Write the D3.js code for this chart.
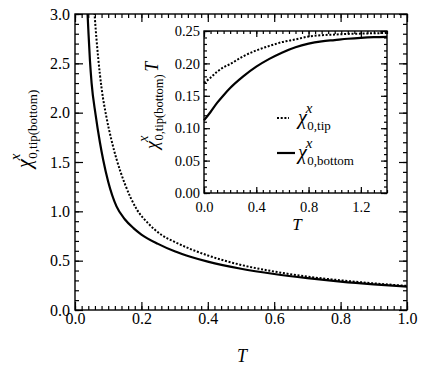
<!DOCTYPE html>
<html>
<head>
<meta charset="utf-8">
<script src="https://cdn.jsdelivr.net/npm/d3@7"></script>
<style>
  body { margin: 0; background: #fff; }
  svg { display: block; }
  .tick line { stroke: #000; stroke-width: 1.2; }
  .tick text { fill: #000; }
</style>
</head>
<body>
<div id="chart"></div>
<script>
// main panel: chi^x_0 against T
var main_T_bottom   = [0.035, 0.04, 0.045, 0.05, 0.062, 0.075, 0.085, 0.1, 0.125, 0.15, 0.176, 0.2, 0.25, 0.3, 0.35, 0.4, 0.5, 0.6, 0.7, 0.8, 0.9, 1.0];
var main_chi_bottom = [3.2, 2.85, 2.53, 2.3, 1.98, 1.7, 1.52, 1.3, 1.05, 0.92, 0.83, 0.765, 0.67, 0.595, 0.537, 0.49, 0.418, 0.365, 0.323, 0.288, 0.26, 0.237];
var main_T_tip   = [0.055, 0.06, 0.07, 0.08, 0.095, 0.11, 0.125, 0.15, 0.186, 0.22, 0.261, 0.3, 0.35, 0.4, 0.5, 0.6, 0.7, 0.8, 0.9, 1.0];
var main_chi_tip = [3.2, 2.95, 2.55, 2.25, 1.95, 1.72, 1.53, 1.28, 1.02, 0.88, 0.76, 0.69, 0.615, 0.553, 0.457, 0.39, 0.338, 0.301, 0.27, 0.244];

// inset: chi^x_0 * T against T
var inset_T = [0, 0.05, 0.1, 0.15, 0.2, 0.3, 0.4, 0.5, 0.6, 0.7, 0.8, 0.9, 1.0, 1.1, 1.2, 1.3, 1.4];
var inset_bottom = [0.112, 0.125, 0.139, 0.151, 0.162, 0.18, 0.195, 0.207, 0.217, 0.225, 0.2305, 0.234, 0.236, 0.238, 0.2395, 0.2405, 0.241];
var inset_tip    = [0.17, 0.178, 0.187, 0.194, 0.199, 0.211, 0.22, 0.227, 0.233, 0.237, 0.2415, 0.2435, 0.2445, 0.2455, 0.246, 0.2465, 0.247];

var main_xticks = [0, 0.2, 0.4, 0.6, 0.8, 1.0];
var main_yticks = [0, 0.5, 1.0, 1.5, 2.0, 2.5, 3.0];
var inset_xticks = [0, 0.4, 0.8, 1.2];
var inset_yticks = [0, 0.05, 0.10, 0.15, 0.20, 0.25];

var W = 436, H = 371;
var FONT = "'Liberation Serif'";

var svg = d3.select("#chart").append("svg")
	.attr("width", W)
	.attr("height", H);

// every text gets the serif family set on itself
function txt(sel) {
	return sel.append("text").style("font-family", FONT);
}

function zip(a, b) {
	return a.map(function(d, i) { return [d, b[i]]; });
}

function minors(lo, hi, step) {
	var out = [];
	var n = Math.round((hi - lo) / step);
	for (var i = 0; i <= n; i++) out.push(+(lo + i * step).toFixed(4));
	return out;
}

// draws inward ticks on all four sides of a frame
function frame(g, x, y, o) {
	var x0 = x.range()[0], x1 = x.range()[1],
		y0 = y.range()[0], y1 = y.range()[1];

	g.append("rect")
		.attr("x", x0).attr("y", y1)
		.attr("width", x1 - x0).attr("height", y0 - y1)
		.attr("fill", o.fill || "none")
		.attr("stroke", "#000")
		.attr("stroke-width", 1.4);

	var sides = [
		{ axis: d3.axisBottom(x), t: "translate(0," + y0 + ")", major: o.xt, minor: o.xm, fmt: o.fmt[0], pad: o.xpad },
		{ axis: d3.axisTop(x), t: "translate(0," + y1 + ")", major: o.xt, minor: o.xm },
		{ axis: d3.axisLeft(y), t: "translate(" + x0 + ",0)", major: o.yt, minor: o.ym, fmt: o.fmt[1], pad: o.ypad },
		{ axis: d3.axisRight(y), t: "translate(" + x1 + ",0)", major: o.yt, minor: o.ym }
	];

	sides.forEach(function(s) {
		g.append("g")
			.attr("transform", s.t)
			.call(s.axis.tickValues(s.minor).tickSize(-o.minLen).tickFormat(""))
			.call(function(a) { a.select(".domain").remove(); });
		var ax = g.append("g")
			.attr("transform", s.t)
			.call(s.axis.tickValues(s.major).tickSize(-o.majLen)
				.tickPadding(s.pad || 3)
				.tickFormat(s.fmt || ""));
		ax.attr("font-size", o.fs).attr("font-family", null);
		ax.selectAll("text").style("font-family", FONT);
		ax.select(".domain").remove();
	});
}

/* MAIN PANEL */

var x = d3.scaleLinear().domain([0, 1]).range([75, 407]),
	y = d3.scaleLinear().domain([0, 3]).range([310, 14]);

svg.append("clipPath").attr("id", "mainclip")
	.append("rect")
	.attr("x", 75).attr("y", 14)
	.attr("width", 332).attr("height", 296);

var main = svg.append("g");

frame(main, x, y, {
	xt: main_xticks, xm: minors(0, 1, 0.02),
	yt: main_yticks, ym: minors(0, 3, 0.1),
	majLen: 8, minLen: 4, fs: 16, xpad: 3, ypad: 5,
	fmt: [d3.format(".1f"), d3.format(".1f")]
});

var line = d3.line()
	.x(function(d) { return x(d[0]); })
	.y(function(d) { return y(d[1]); })
	.curve(d3.curveMonotoneX);

main.append("path")
	.datum(zip(main_T_tip, main_chi_tip))
	.attr("clip-path", "url(#mainclip)")
	.attr("fill", "none")
	.attr("stroke", "#000")
	.attr("stroke-width", 2)
	.attr("stroke-dasharray", "2,1.7")
	.attr("d", line);

main.append("path")
	.datum(zip(main_T_bottom, main_chi_bottom))
	.attr("clip-path", "url(#mainclip)")
	.attr("fill", "none")
	.attr("stroke", "#000")
	.attr("stroke-width", 2.2)
	.attr("d", line);

// x label
txt(svg)
	.attr("x", 242).attr("y", 362)
	.attr("text-anchor", "middle")
	.attr("font-size", 18)
	.attr("font-style", "italic")
	.text("T");

// chi label with stacked super/subscript, in a local frame
function chiLabel(g, chiSize, subSize, subText, extra) {
	var chi = txt(g)
		.attr("font-size", chiSize)
		.attr("font-style", "italic")
		.text("\u03c7");
	var w = chi.node().getComputedTextLength();
	var sub = txt(g)
		.attr("x", w + 0.5).attr("y", chiSize * 0.28)
		.attr("font-size", subSize)
		.text(subText);
	txt(g)
		.attr("x", w - 1).attr("y", -chiSize * 0.55)
		.attr("font-size", subSize + 2)
		.attr("font-style", "italic")
		.text("x");
	if (extra) {
		var sw = sub.node().getComputedTextLength();
		txt(g)
			.attr("x", w + sw + 3).attr("y", 0)
			.attr("font-size", chiSize)
			.attr("font-style", "italic")
			.text(extra);
	}
}

chiLabel(svg.append("g").attr("transform", "translate(31,168) rotate(-90)"), 20, 13, "0,tip(bottom)");

/* INSET */

var ix = d3.scaleLinear().domain([0, 1.4]).range([204, 387]),
	iy = d3.scaleLinear().domain([0, 0.25]).range([193, 31]);

var inset = svg.append("g");

frame(inset, ix, iy, {
	xt: inset_xticks, xm: minors(0, 1.4, 0.05),
	yt: inset_yticks, ym: minors(0, 0.25, 0.01),
	majLen: 6, minLen: 3, fs: 14.5, xpad: 9, ypad: 4, fill: "#fff",
	fmt: [d3.format(".1f"), d3.format(".2f")]
});

var iline = d3.line()
	.x(function(d) { return ix(d[0]); })
	.y(function(d) { return iy(d[1]); })
	.curve(d3.curveMonotoneX);

inset.append("path")
	.datum(zip(inset_T, inset_tip))
	.attr("fill", "none")
	.attr("stroke", "#000")
	.attr("stroke-width", 2)
	.attr("stroke-dasharray", "2,1.7")
	.attr("d", iline);

inset.append("path")
	.datum(zip(inset_T, inset_bottom))
	.attr("fill", "none")
	.attr("stroke", "#000")
	.attr("stroke-width", 2.2)
	.attr("d", iline);

txt(svg)
	.attr("x", 297).attr("y", 230)
	.attr("text-anchor", "middle")
	.attr("font-size", 17)
	.attr("font-style", "italic")
	.text("T");

chiLabel(svg.append("g").attr("transform", "translate(158,149) rotate(-90)"), 18, 12.5, "0,tip(bottom)", "T");

// legend
var legend = [
	{ sub: "0,tip", dash: "2,1.7", w: 2, y: 118 },
	{ sub: "0,bottom", dash: null, w: 2.2, y: 153 }
];

legend.forEach(function(l) {
	svg.append("line")
		.attr("x1", 277).attr("x2", l.dash ? 289 : 295)
		.attr("y1", l.y).attr("y2", l.y)
		.attr("stroke", "#000")
		.attr("stroke-width", l.w)
		.attr("stroke-dasharray", l.dash);
	chiLabel(svg.append("g").attr("transform", "translate(298," + (l.y + 6) + ")"), 20, 13, l.sub);
});
</script>
</body>
</html>
